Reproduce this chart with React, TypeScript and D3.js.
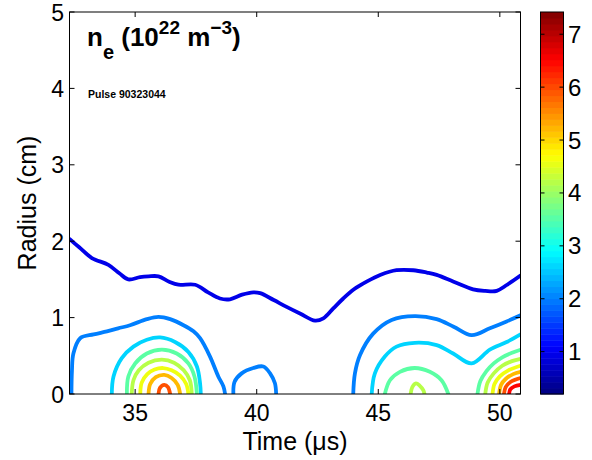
import React from 'react';
import * as d3 from 'd3';

type Pt = [number, number];

const timeDomain: [number, number] = [32.3, 50.85];
const radiusDomain: [number, number] = [0, 5];
const timeTicks = [35, 40, 45, 50];
const radiusTicks = [0, 1, 2, 3, 4, 5];
const colorbarDomain: [number, number] = [0.2, 7.42];
const colorbarTicks = [1, 2, 3, 4, 5, 6, 7];
const contourLevels = [0.95, 2.0, 2.6, 3.55, 4.2, 4.6, 5.2, 5.95, 6.5];

const c1: Pt[] = [[32.3,2.03],[32.7,1.92],[33.22,1.78],[33.9,1.69],[34.35,1.58],[34.72,1.50],[35.2,1.53],[35.55,1.54],[35.96,1.54],[36.4,1.47],[36.78,1.43],[37.47,1.43],[38.0,1.33],[38.49,1.25],[38.9,1.24],[39.4,1.30],[39.86,1.33],[40.14,1.32],[40.7,1.23],[41.23,1.14],[41.8,1.05],[42.40,0.96],[42.74,0.99],[43.15,1.12],[43.56,1.25],[44.0,1.37],[44.52,1.47],[45.1,1.56],[45.75,1.62],[46.44,1.62],[47.0,1.59],[47.40,1.56],[48.1,1.47],[48.90,1.37],[49.4,1.35],[49.87,1.35],[50.3,1.43],[50.85,1.55]];
const c2a: Pt[] = [[32.38,0],[32.4,0.3],[32.46,0.53],[32.74,0.73],[33.29,0.78],[33.84,0.82],[34.3,0.86],[34.79,0.90],[35.48,0.98],[35.96,1.01],[36.44,0.98],[36.99,0.90],[37.4,0.82],[37.67,0.73],[38.08,0.49],[38.42,0.23],[38.63,0.10],[38.70,0]];
const c2b: Pt[] = [[39.04,0],[39.09,0.16],[39.38,0.27],[39.86,0.34],[40.27,0.36],[40.55,0.27],[40.75,0.14],[40.8,0]];
const c2c: Pt[] = [[43.97,0],[44.04,0.27],[44.25,0.51],[44.79,0.79],[45.55,0.97],[46.5,1.02],[47.40,0.98],[48.1,0.88],[48.84,0.77],[49.59,0.86],[50.28,0.95],[50.85,1.03]];
const c3a: Pt[] = [[34.04,0],[34.11,0.23],[34.45,0.47],[34.93,0.62],[35.48,0.71],[36.03,0.74],[36.64,0.68],[37.19,0.55],[37.54,0.36],[37.67,0.14],[37.70,0]];
const c3b: Pt[] = [[44.73,0],[44.86,0.27],[45.27,0.49],[45.75,0.62],[46.5,0.67],[47.40,0.64],[48.08,0.53],[48.84,0.40],[49.59,0.58],[50.28,0.68],[50.85,0.78]];
const c4a: Pt[] = [[34.66,0],[34.72,0.23],[35.0,0.40],[35.48,0.53],[36.10,0.58],[36.71,0.53],[37.19,0.40],[37.44,0.23],[37.54,0]];
const c4b: Pt[] = [[45.27,0],[45.48,0.18],[45.89,0.29],[46.5,0.34],[47.12,0.29],[47.60,0.18],[47.88,0]];
const c4c: Pt[] = [[49.08,0],[49.2,0.17],[49.45,0.3],[49.75,0.4],[50.1,0.48],[50.5,0.54],[50.85,0.58]];
const c5a: Pt[] = [[34.86,0],[34.93,0.18],[35.15,0.31],[35.55,0.41],[36.1,0.45],[36.6,0.41],[37.0,0.31],[37.25,0.18],[37.33,0]];
const c5b: Pt[] = [[46.33,0],[46.4,0.09],[46.55,0.14],[46.7,0.11],[46.85,0.05],[46.9,0]];
const c5c: Pt[] = [[49.4,0],[49.5,0.15],[49.75,0.27],[50.1,0.37],[50.5,0.43],[50.85,0.46]];
const c6a: Pt[] = [[35.21,0],[35.27,0.15],[35.5,0.26],[35.8,0.32],[36.15,0.34],[36.5,0.31],[36.85,0.24],[37.1,0.13],[37.19,0]];
const c6b: Pt[] = [[49.7,0],[49.78,0.13],[50.0,0.23],[50.35,0.31],[50.85,0.37]];
const c7a: Pt[] = [[35.55,0],[35.62,0.13],[35.85,0.22],[36.2,0.25],[36.5,0.21],[36.75,0.12],[36.85,0]];
const c7b: Pt[] = [[49.97,0],[50.05,0.12],[50.25,0.2],[50.55,0.26],[50.85,0.29]];
const c8a: Pt[] = [[35.96,0],[36.02,0.08],[36.2,0.12],[36.35,0.09],[36.44,0]];
const c8b: Pt[] = [[50.17,0],[50.24,0.09],[50.45,0.16],[50.85,0.21]];
const c9a: Pt[] = [[50.38,0],[50.43,0.06],[50.6,0.1],[50.85,0.12]];

const contourSets: { level: number; paths: Pt[][] }[] = [
  { level: 0, paths: [c1] },
  { level: 1, paths: [c2a, c2b, c2c] },
  { level: 2, paths: [c3a, c3b] },
  { level: 3, paths: [c4a, c4b, c4c] },
  { level: 4, paths: [c5a, c5b, c5c] },
  { level: 5, paths: [c6a, c6b] },
  { level: 6, paths: [c7a, c7b] },
  { level: 7, paths: [c8a, c8b] },
  { level: 8, paths: [c9a] },
];

const W = 592, H = 460;
const L = 69.5, R = 520.5, T = 12, B = 394;
const CBL = 540.5, CBR = 563.5;
const FONT = '"Liberation Sans", Arial, sans-serif';

function jet(f: number): string {
  const c = (v: number) => Math.max(0, Math.min(1, v));
  return d3.rgb(
    255 * c(1.5 - Math.abs(4 * f - 3)),
    255 * c(1.5 - Math.abs(4 * f - 2)),
    255 * c(1.5 - Math.abs(4 * f - 1))
  ).formatHex();
}

export default function App() {
  const x = d3.scaleLinear().domain(timeDomain).range([L, R]);
  const y = d3.scaleLinear().domain(radiusDomain).range([B, T]);
  const cy = d3.scaleLinear().domain(colorbarDomain).range([B, T]);
  const colorOf = (v: number) => jet((v - colorbarDomain[0]) / (colorbarDomain[1] - colorbarDomain[0]));
  const line = d3.line<Pt>().x(d => x(d[0])).y(d => y(d[1])).curve(d3.curveCatmullRom.alpha(0.5));

  const nBands = 64;
  const bands = d3.range(nBands).map(i => {
    const v0 = colorbarDomain[0] + (i / nBands) * (colorbarDomain[1] - colorbarDomain[0]);
    const v1 = colorbarDomain[0] + ((i + 1) / nBands) * (colorbarDomain[1] - colorbarDomain[0]);
    return { y0: cy(v1), y1: cy(v0), color: jet((i + 0.5) / nBands) };
  });

  const tick = 5;
  return (
    <svg width={W} height={H} style={{ position: 'absolute', left: 0, top: 0, background: '#fff' }} fontFamily={FONT}>
      <rect x={0} y={0} width={W} height={H} fill="#fff" />
      <defs>
        <clipPath id="plotclip">
          <rect x={L} y={T} width={R - L} height={B - T} />
        </clipPath>
      </defs>
      <g clipPath="url(#plotclip)">
        {contourSets.map(s =>
          s.paths.map((p, j) => (
            <path key={`${s.level}-${j}`} d={line(p) || ''} fill="none"
              stroke={colorOf(contourLevels[s.level])} strokeWidth={3.8}
              strokeLinejoin="round" strokeLinecap="round" />
          ))
        )}
      </g>
      <rect x={L} y={T} width={R - L} height={B - T} fill="none" stroke="#000" strokeWidth={1} />
      {timeTicks.map(t => (
        <g key={`xt${t}`}>
          <line x1={x(t)} x2={x(t)} y1={B} y2={B - tick} stroke="#000" />
          <line x1={x(t)} x2={x(t)} y1={T} y2={T + tick} stroke="#000" />
          <text x={x(t)} y={421} textAnchor="middle" fontSize={23}>{t}</text>
        </g>
      ))}
      {radiusTicks.map(r => (
        <g key={`yt${r}`}>
          <line x1={L} x2={L + tick} y1={y(r)} y2={y(r)} stroke="#000" />
          <line x1={R} x2={R - tick} y1={y(r)} y2={y(r)} stroke="#000" />
          <text x={64} y={y(r) + 8.5} textAnchor="end" fontSize={23}>{r}</text>
        </g>
      ))}
      <text x={295} y={450} textAnchor="middle" fontSize={25}>Time (μs)</text>
      <text transform={`translate(36,${(T + B) / 2}) rotate(-90)`} textAnchor="middle" fontSize={25}>Radius (cm)</text>
      <text x={87} y={46} fontSize={26} fontWeight="bold">
        n<tspan dy={13} fontSize={20}>e</tspan>
        <tspan dy={-13}> (10</tspan>
        <tspan dy={-12} fontSize={19}>22</tspan>
        <tspan dy={12}> m</tspan>
        <tspan dy={-12} fontSize={19}>−3</tspan>
        <tspan dy={12}>)</tspan>
      </text>
      <text x={88} y={98} fontSize={10.5} fontWeight="bold">Pulse 90323044</text>
      {bands.map((b, i) => (
        <rect key={`cb${i}`} x={CBL} y={b.y0} width={CBR - CBL} height={b.y1 - b.y0 + 0.5} fill={b.color} />
      ))}
      <rect x={CBL} y={T} width={CBR - CBL} height={B - T} fill="none" stroke="#000" />
      {colorbarTicks.map(v => (
        <g key={`ct${v}`}>
          <line x1={CBR} x2={CBR - 4} y1={cy(v)} y2={cy(v)} stroke="#000" />
          <line x1={CBL} x2={CBL + 4} y1={cy(v)} y2={cy(v)} stroke="#000" />
          <text x={568} y={cy(v) + 8.5} fontSize={24}>{v}</text>
        </g>
      ))}
    </svg>
  );
}
